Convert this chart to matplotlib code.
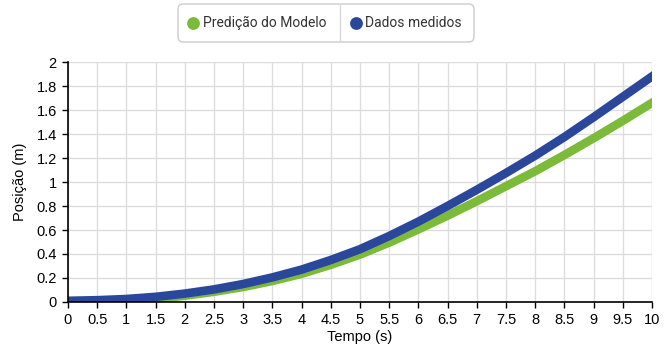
import matplotlib
matplotlib.use("Agg")
import matplotlib.pyplot as plt
from matplotlib.lines import Line2D
from matplotlib.patches import FancyBboxPatch

# Data
tempo = [0, 0.5, 1, 1.5, 2, 2.5, 3, 3.5, 4, 4.5, 5,
         5.5, 6, 6.5, 7, 7.5, 8, 8.5, 9, 9.5, 10]
modelo = [0.0, 0.0, 0.008, 0.025, 0.052, 0.085, 0.125, 0.175, 0.235, 0.31, 0.395,
          0.495, 0.605, 0.72, 0.84, 0.965, 1.09, 1.225, 1.365, 1.51, 1.66]
medidos = [0.01, 0.015, 0.025, 0.043, 0.07, 0.105, 0.15, 0.205, 0.27, 0.35, 0.44,
           0.55, 0.67, 0.80, 0.935, 1.075, 1.22, 1.375, 1.54, 1.71, 1.88]
series_names = ["Predição do Modelo", "Dados medidos"]

x_ticks = [i * 0.5 for i in range(21)]
y_ticks = [i * 0.2 for i in range(11)]

GREEN = "#7cbb3a"
BLUE = "#2a479b"

plt.rcParams["font.family"] = ["Liberation Sans", "DejaVu Sans"]

fig = plt.figure(figsize=(6.71, 3.56), dpi=100)
ax = fig.add_axes([0.1013, 0.1517, 0.8704, 0.6741])

ax.plot(tempo, modelo, color=GREEN, lw=6.2, solid_capstyle="projecting",
        solid_joinstyle="round", zorder=3)
ax.plot(tempo, medidos, color=BLUE, lw=6.2, solid_capstyle="projecting",
        solid_joinstyle="round", zorder=4)

ax.set_xlim(0, 10)
ax.set_ylim(0, 2)
ax.set_xticks(x_ticks)
ax.set_xticklabels([f"{v:g}" for v in x_ticks])
ax.set_yticks(y_ticks)
ax.set_yticklabels([f"{round(v, 1):g}" for v in y_ticks])
ax.grid(True, color="#dddddd", lw=1)
ax.set_axisbelow(True)

for side in ["top", "right"]:
    ax.spines[side].set_visible(False)
for side in ["left", "bottom"]:
    ax.spines[side].set_color("black")
    ax.spines[side].set_linewidth(1.2)
    ax.spines[side].set_zorder(5)

ax.tick_params(axis="both", direction="out", length=4, width=1, colors="black",
               labelsize=10.5, pad=4)
ax.set_xlabel("Tempo (s)", fontsize=10.5, labelpad=2)
ax.set_ylabel("Posição (m)", fontsize=10.5, labelpad=7)

# ---- legend (drawn by hand to get the divider) ----
W, H = 671, 356


def fx(px):
    return px / W


def fy(py):
    return 1 - py / H


box = FancyBboxPatch((fx(178), fy(42)), fx(296), 38 / H,
                     boxstyle="round,pad=0,rounding_size=0.008",
                     transform=fig.transFigure, facecolor="white",
                     edgecolor="#cccccc", lw=1, mutation_aspect=W / H)
fig.add_artist(box)
fig.add_artist(Line2D([fx(340), fx(340)], [fy(5), fy(41)], color="#d8d8d8",
                      lw=1, transform=fig.transFigure))
for mx, tx, color, name in [(193, 203, GREEN, series_names[0]),
                            (356, 365, BLUE, series_names[1])]:
    fig.add_artist(Line2D([fx(mx)], [fy(23)], ls="none", marker="o", ms=8.2,
                          color=color, transform=fig.transFigure))
    fig.text(fx(tx), fy(23), name, family="Roboto", fontsize=10,
             va="center", ha="left", color="#333333")

fig.savefig("out.png", dpi=100)
